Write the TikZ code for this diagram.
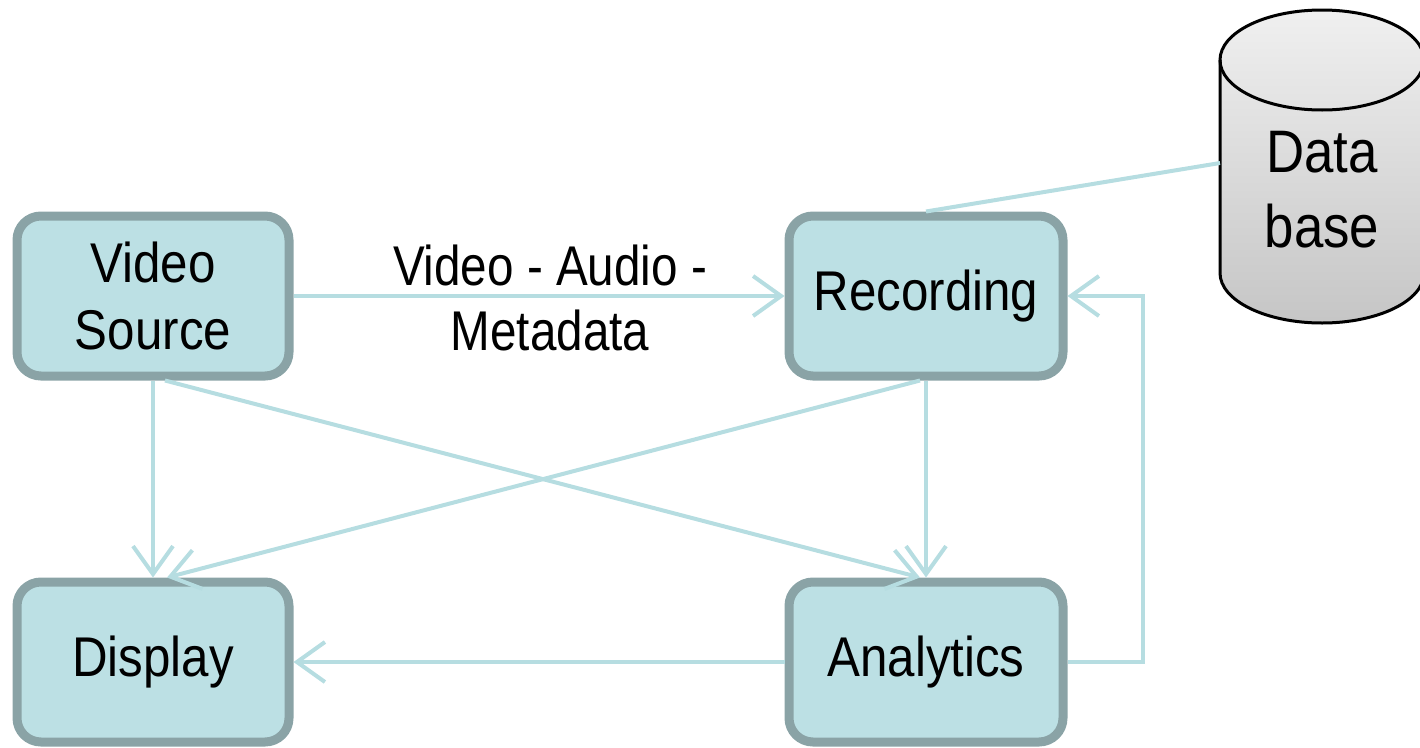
\documentclass[tikz,border=0pt]{standalone}
\usepackage{fontspec}
\setmainfont{Liberation Sans}
\newfontfamily\boxfont{Liberation Sans}[FakeStretch=0.88]
\newfontfamily\lblfont{Liberation Sans}[FakeStretch=0.85]
\usetikzlibrary{arrows.meta}
\definecolor{boxfill}{HTML}{BCE0E4}
\definecolor{boxline}{HTML}{8AA3A6}
\definecolor{conncol}{HTML}{B6DDE1}
\tikzset{
  box/.style={draw=boxline, fill=boxfill, line width=9pt, rounded corners=24pt,
    minimum height=160pt, align=center, inner sep=0pt,
    font=\boxfont\fontsize{56}{67}\selectfont},
  conn/.style={draw=conncol, line width=4pt},
  arr/.style={conn, -{Straight Barb[length=28pt,width=40pt]}},
  lbl/.style={align=center, inner sep=0pt, font=\lblfont\fontsize{56}{65}\selectfont}
}
\begin{document}
\begin{tikzpicture}[x=1pt,y=-1pt]
\useasboundingbox (0,0) rectangle (1420,747);
% database cylinder
\path[top color=gray!12, bottom color=gray!45, draw=black, line width=3pt]
  (1220,60) -- (1220,273) arc[start angle=180, end angle=360, x radius=102pt, y radius=50pt]
  -- (1424,60) arc[start angle=0, end angle=180, x radius=102pt, y radius=50pt] -- cycle;
\draw[black, line width=3pt] (1220,60) arc[start angle=180, end angle=360, x radius=102pt, y radius=50pt];
\node[lbl, font=\boxfont\fontsize{60}{75}\selectfont] (dbt) at (1322,190) {Data\\base};
\coordinate (dbl) at (1220,163);
% boxes
\node[box, minimum width=272pt] (vs) at (153,296) {Video\\Source};
\node[box, minimum width=274pt] (rec) at (926,296) {Recording};
\node[box, minimum width=272pt] (dis) at (153,662) {Display};
\node[box, minimum width=274pt] (an) at (926,662) {Analytics};
% connectors
\draw[conn] (rec.north) -- (dbl);
\draw[arr] (vs.east) -- node[lbl, xshift=11pt, yshift=-2pt] (lab) {Video - Audio -\\Metadata} (rec.west);
\draw[arr] (vs.south) -- (dis.north);
\draw[arr] ([xshift=12pt]vs.south) -- ([xshift=-6pt]an.north);
\draw[arr] (rec.south) -- (an.north);
\draw[arr] ([xshift=-6pt]rec.south) -- ([xshift=14pt]dis.north);
\draw[arr] (an.west) -- (dis.east);
\coordinate (c1) at (1143,662);
\coordinate (c2) at (1143,296);
\draw[arr] (an.east) -- (c1) -- (c2) -- (rec.east);
\end{tikzpicture}
\end{document}
